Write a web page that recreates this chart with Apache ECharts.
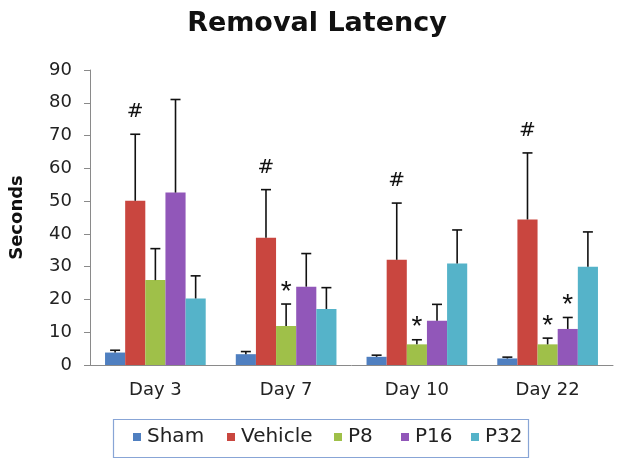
<!DOCTYPE html>
<html><head><meta charset="utf-8">
<script src="https://cdn.jsdelivr.net/npm/echarts@6/dist/echarts.min.js"></script>
<style>html,body{margin:0;padding:0;background:#fff}#c{width:624px;height:467px}</style>
</head><body><div id="c"></div>
<script>
var categories = ['Day 3', 'Day 7', 'Day 10', 'Day 22'];
var seriesNames = ['Sham', 'Vehicle', 'P8', 'P16', 'P32'];
var sham = [3.8, 3.3, 2.5, 2.0];
var vehicle = [50.1, 38.8, 32.1, 44.4];
var p8 = [25.9, 11.9, 6.3, 6.3];
var p16 = [52.6, 23.9, 13.5, 11.0];
var p32 = [20.3, 17.1, 31.0, 30.0];
var shamErr = [0.7, 0.8, 0.5, 0.4];
var vehicleErr = [20.3, 14.7, 17.3, 20.3];
var p8Err = [9.6, 6.7, 1.4, 1.9];
var p16Err = [28.4, 10.1, 5.0, 3.5];
var p32Err = [6.9, 6.5, 10.2, 10.6];
var shamMark = ['', '', '', ''];
var vehicleMark = ['#', '#', '#', '#'];
var p8Mark = ['', '*', '*', '*'];
var p16Mark = ['', '', '', '*'];
var p32Mark = ['', '', '', ''];
var yTicks = [0, 10, 20, 30, 40, 50, 60, 70, 80, 90];

var colors = ['#4f7fc0', '#c9463f', '#9fc049', '#9157b9', '#55b3c9'];
var legendX = [133, 227, 334, 401, 471];
var values = [sham, vehicle, p8, p16, p32];
var errs = [shamErr, vehicleErr, p8Err, p16Err, p32Err];
var marks = [shamMark, vehicleMark, p8Mark, p16Mark, p32Mark];
var GAP = 0.23;

var chart = echarts.init(document.getElementById('c'));
var series = [];
values.forEach(function (v, i) {
  series.push({
    name: seriesNames[i], type: 'bar', data: v, barGap: '0%', barCategoryGap: (GAP * 100) + '%',
    itemStyle: { color: colors[i] }, z: 2
  });
});
values.forEach(function (v, i) {
  series.push({
    type: 'custom', name: seriesNames[i] + '_err', z: 5, silent: true,
    data: v.map(function (val, j) { return [j, val, val + errs[i][j]]; }),
    encode: { x: 0, y: [1, 2] },
    renderItem: function (params, api) {
      var band = api.size([1, 0])[0];
      var total = band * (1 - GAP);
      var bw = total / 5;
      var off = -total / 2 + (i + 0.5) * bw;
      var p0 = api.coord([api.value(0), api.value(1)]);
      var p1 = api.coord([api.value(0), api.value(2)]);
      var x = p0[0] + off;
      var children = [
        { type: 'line', shape: { x1: x, y1: p0[1], x2: x, y2: p1[1] }, style: { stroke: '#111', lineWidth: 1.6 } },
        { type: 'line', shape: { x1: x - 5, y1: p1[1], x2: x + 5, y2: p1[1] }, style: { stroke: '#111', lineWidth: 1.6 } }
      ];
      var m = marks[i][params.dataIndex];
      if (m) {
        var isStar = m === '*';
        children.push({
          type: 'text', x: x, y: isStar ? p1[1] - 26 : p1[1] - 12,
          style: { text: m, fill: '#111', align: 'center', verticalAlign: isStar ? 'top' : 'bottom',
            font: isStar ? '28px "Liberation Sans"' : '20px "DejaVu Sans"' }
        });
      }
      return { type: 'group', children: children };
    }
  });
});

var legends = seriesNames.map(function (n, i) {
  return {
    data: [n], left: legendX[i], top: 427, itemWidth: 8, itemHeight: 8, icon: 'rect', padding: 0,
    textStyle: { fontFamily: 'DejaVu Sans', fontSize: 20, color: '#222', padding: [0, 0, 0, 1] }
  };
});

chart.setOption({
  animation: false,
  backgroundColor: '#fff',
  title: { text: 'Removal Latency', left: 312, top: 5, textAlign: 'center',
    textStyle: { fontFamily: 'DejaVu Sans', fontWeight: 'bold', fontSize: 27, color: '#111' } },
  graphic: [{ type: 'rect', shape: { x: 113.5, y: 419.5, width: 415, height: 38 },
    style: { fill: 'none', stroke: '#88a5d6', lineWidth: 1.2 } }],
  legend: legends,
  grid: { left: 88, right: 11, top: 70, bottom: 102 },
  xAxis: {
    type: 'category', data: categories,
    axisLine: { lineStyle: { color: '#8a8a8a', width: 1 } },
    axisTick: { length: 7, lineStyle: { color: '#8a8a8a' } },
    axisLabel: { fontFamily: 'DejaVu Sans', fontSize: 18, color: '#222', margin: 16 }
  },
  yAxis: {
    type: 'value', min: 0, max: 90, interval: 10,
    name: 'Seconds', nameLocation: 'middle', nameGap: 64, nameRotate: 90,
    nameTextStyle: { fontFamily: 'DejaVu Sans', fontWeight: 'bold', fontSize: 18, color: '#111' },
    axisLine: { show: true, lineStyle: { color: '#8a8a8a' } },
    axisTick: { show: true, length: 6, lineStyle: { color: '#8a8a8a' } },
    splitLine: { show: false },
    axisLabel: { fontFamily: 'DejaVu Sans', fontSize: 18, color: '#222', margin: 18,
      formatter: function (v) { return yTicks.indexOf(v) >= 0 ? String(v) : ''; } }
  },
  series: series
});
</script></body></html>
